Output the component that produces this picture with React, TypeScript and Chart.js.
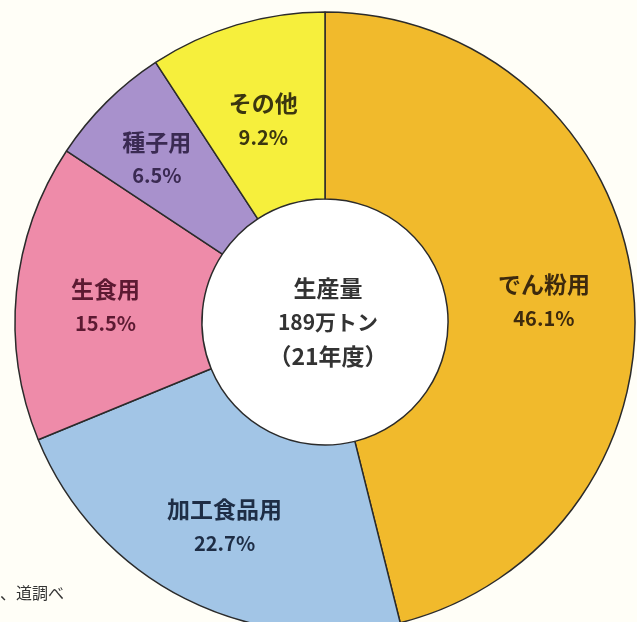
import React, { useEffect, useRef } from "react";
import { Chart, registerables } from "chart.js";

Chart.register(...registerables);

const categories = ["でん粉用", "加工食品用", "生食用", "種子用", "その他"];
const shares = [46.1, 22.7, 15.5, 6.5, 9.2];
const percentLabels = ["46.1%", "22.7%", "15.5%", "6.5%", "9.2%"];
const centerLines = ["生産量", "189万トン", "（21年度）"];
const sourceNote = "、道調べ";

const fillColors = ["#F1BA2C", "#A2C5E6", "#EE8BA9", "#A891CC", "#F6EF3C"];
const textColors = ["#3d2a0e", "#1e2d45", "#5c1a32", "#3a2a52", "#3b3610"];
const labelRadialShift = [4, 6, 4, 22, 0];

const FONT = '"Noto Sans CJK JP", "Noto Sans", sans-serif';

const holePlugin = {
  id: "holeFill",
  beforeDatasetsDraw(chart: any) {
    const meta = chart.getDatasetMeta(0);
    const a = meta.data[0];
    if (!a) return;
    const ctx = chart.ctx;
    ctx.save();
    ctx.fillStyle = "#FFFFFF";
    ctx.beginPath();
    ctx.arc(a.x, a.y, a.innerRadius, 0, Math.PI * 2);
    ctx.fill();
    ctx.restore();
  },
};

const labelPlugin = {
  id: "sliceLabels",
  afterDraw(chart: any) {
    const ctx = chart.ctx;
    const meta = chart.getDatasetMeta(0);
    ctx.save();
    ctx.textAlign = "center";
    ctx.textBaseline = "middle";
    meta.data.forEach((arc: any, i: number) => {
      const p = arc.getProps(["x", "y", "startAngle", "endAngle", "innerRadius", "outerRadius"], true);
      const mid = (p.startAngle + p.endAngle) / 2;
      const r = (p.innerRadius + p.outerRadius) / 2 + labelRadialShift[i];
      const cx = p.x + Math.cos(mid) * r;
      const cy = p.y + Math.sin(mid) * r + 6;
      ctx.fillStyle = textColors[i];
      ctx.font = `bold 23px ${FONT}`;
      ctx.fillText(categories[i], cx, cy - 17);
      ctx.font = `bold 20px ${FONT}`;
      ctx.fillText(percentLabels[i], cx, cy + 17);
    });
    const c = meta.data[0];
    ctx.fillStyle = "#333333";
    centerLines.forEach((t, k) => {
      ctx.font = k === 1 ? `bold 21px ${FONT}` : `bold 23px ${FONT}`;
      ctx.fillText(t, c.x + 3, c.y - 34 + k * 34);
    });
    ctx.textAlign = "left";
    ctx.font = `16px ${FONT}`;
    ctx.fillStyle = "#333333";
    ctx.fillText(sourceNote, 0, 593);
    ctx.restore();
  },
};

export default function App() {
  const ref = useRef<HTMLCanvasElement>(null);
  useEffect(() => {
    if (!ref.current) return;
    const chart = new Chart(ref.current, {
      type: "doughnut",
      data: {
        labels: categories,
        datasets: [
          {
            data: shares,
            backgroundColor: fillColors,
            borderColor: "#2b2b2b",
            borderWidth: 1.5,
            clip: false,
          } as any,
        ],
      },
      options: {
        animation: false,
        responsive: false,
        radius: 310,
        cutout: "39.7%",
        layout: { padding: { left: 13, right: 0, top: 22, bottom: 0 } },
        plugins: {
          legend: { display: false },
          tooltip: { enabled: false },
        },
      } as any,
      plugins: [holePlugin, labelPlugin],
    });
    return () => chart.destroy();
  }, []);
  return (
    <div
      style={{
        position: "fixed",
        left: 0,
        top: 0,
        width: 637,
        height: 622,
        overflow: "hidden",
        background: "#FFFEF7",
      }}
    >
      <canvas ref={ref} width={637} height={622} style={{ width: 637, height: 622, display: "block" }} />
    </div>
  );
}
